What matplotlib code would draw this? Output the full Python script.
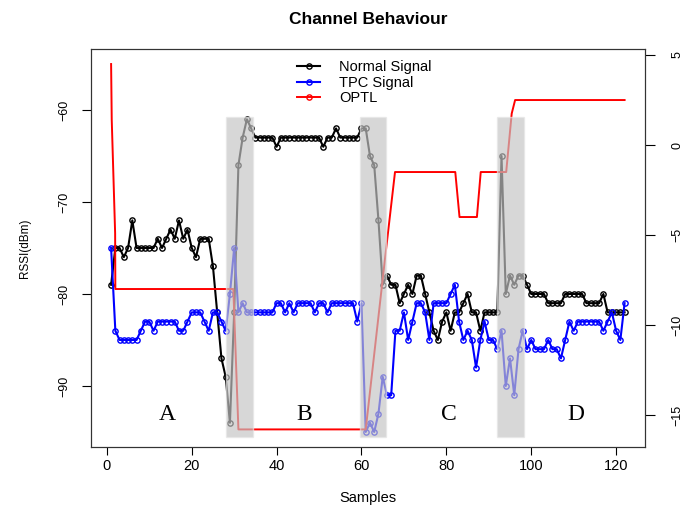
import numpy as np
import matplotlib
matplotlib.use("Agg")
import matplotlib.pyplot as plt
from matplotlib.patches import Rectangle

plt.rcParams['font.family'] = ['Liberation Sans', 'DejaVu Sans']

samples = np.arange(1, 123)

normal = [-79, -75, -75, -76, -75, -72, -75, -75, -75, -75,
          -75, -74, -75, -74, -73, -74, -72, -74, -73, -75,
          -76, -74, -74, -74, -77, -82, -87, -89, -94, -82,
          -66, -63, -61, -62, -63, -63, -63, -63, -63, -64,
          -63, -63, -63, -63, -63, -63, -63, -63, -63, -63,
          -64, -63, -63, -62, -63, -63, -63, -63, -63, -62,
          -62, -65, -66, -72, -79, -78, -79, -79, -81, -80,
          -79, -80, -78, -78, -80, -82, -84, -85, -83, -82,
          -84, -82, -82, -81, -80, -82, -82, -84, -82, -82,
          -82, -82, -65, -80, -78, -79, -78, -78, -79, -80,
          -80, -80, -80, -81, -81, -81, -81, -80, -80, -80,
          -80, -80, -81, -81, -81, -81, -80, -82, -82, -82,
          -82, -82]

tpc = [-75, -84, -85, -85, -85, -85, -85, -84, -83, -83,
       -84, -83, -83, -83, -83, -83, -84, -84, -83, -82,
       -82, -82, -83, -84, -82, -82, -83, -84, -80, -75,
       -82, -81, -82, -82, -82, -82, -82, -82, -82, -81,
       -81, -82, -81, -82, -81, -81, -81, -81, -82, -81,
       -81, -82, -81, -81, -81, -81, -81, -81, -83, -81,
       -95, -94, -95, -93, -89, -91, -91, -84, -84, -82,
       -85, -83, -81, -81, -82, -85, -81, -81, -81, -81,
       -80, -79, -83, -85, -84, -85, -88, -85, -83, -85,
       -85, -86, -84, -90, -87, -91, -86, -84, -86, -85,
       -86, -86, -86, -85, -86, -86, -87, -85, -83, -84,
       -83, -83, -83, -83, -83, -83, -84, -83, -82, -84,
       -85, -81]

optl_x = [1, 1.15, 1.55, 1.95, 2, 29.8, 31, 61, 65.5, 67.9, 82.1, 83.1,
          87.2, 88.1, 94.1, 95.4, 96.2, 122]
optl_y = [4.5, 1.4, -1.75, -4.9, -8, -8, -15.8, -15.8, -6.4, -1.5, -1.5, -4,
          -4, -1.5, -1.5, 1.75, 2.5, 2.5]

# shaded transition regions (x0, x1) and region letters
shade_x = [(28.1, 34.4), (59.7, 65.7), (91.9, 98.2)]
shade_y = (-95.5, -60.8)
letters = ['A', 'B', 'C', 'D']
letter_x = [14.2, 46.5, 80.7, 110.6]
letter_y = -93.1

fig = plt.figure(figsize=(6.99, 5.08), dpi=100)
ax = fig.add_axes([0.1298, 0.1207, 0.7929, 0.7823])
ax2 = ax.twinx()

mk = dict(marker='o', ms=3.8, mfc='none', mew=1.0)
l1, = ax.plot(samples, normal, color='black', lw=1.5, label='Normal Signal', **mk)
l2, = ax.plot(samples, tpc, color='blue', lw=1.5, label='TPC Signal', **mk)
ax2.plot(optl_x, optl_y, color='red', lw=1.4)
l3, = ax2.plot([], [], color='red', lw=1.4, label='OPTL', **mk)

for x0, x1 in shade_x:
    ax2.add_patch(Rectangle((x0, shade_y[0]), x1 - x0, shade_y[1] - shade_y[0],
                            transform=ax.transData, facecolor='#c4c4c4',
                            edgecolor='#e6e6e6', lw=1.0, alpha=0.68, zorder=5))

for t, x in zip(letters, letter_x):
    ax.text(x, letter_y, t, family='Liberation Serif', fontsize=17,
            ha='center', va='center')

ax.set_xlim(-3.8, 126.8)
ax.set_ylim(-96.6, -53.4)
ax2.set_ylim(-16.76, 5.32)

ax.set_xticks([0, 20, 40, 60, 80, 100, 120])
ax.set_yticks([-60, -70, -80, -90])
ax2.set_yticks([5, 0, -5, -10, -15])

ax.tick_params(axis='x', length=6, width=0.8, pad=3, labelsize=10.5)
ax.tick_params(axis='y', length=6.5, width=0.8, pad=8, labelsize=9)
ax2.tick_params(axis='y', length=7, width=0.8, pad=12, labelsize=9)
for lab in ax.get_yticklabels():
    lab.set_rotation(90)
    lab.set_va('center')
for lab in ax2.get_yticklabels():
    lab.set_rotation(90)
    lab.set_va('center')
    lab.set_ha('left')

for a in (ax, ax2):
    for sp in a.spines.values():
        sp.set_linewidth(0.8)
        sp.set_color('#333333')

ax.set_xlabel('Samples', fontsize=10.5, labelpad=13)
ax.set_ylabel('RSSI(dBm)', fontsize=8.5, labelpad=20)
fig.text(0.527, 0.962, 'Channel Behaviour', fontsize=12.5, fontweight='bold',
         ha='center', va='center')

ax2.legend(handles=[l1, l2, l3], loc='upper left',
           bbox_to_anchor=(297 / 699, (508 - 60) / 508),
           bbox_transform=fig.transFigure, frameon=False, fontsize=10.5,
           handlelength=1.6, handletextpad=1.3, labelspacing=0.12,
           borderpad=0, borderaxespad=0, numpoints=1)

fig.savefig('out.png', dpi=100)
